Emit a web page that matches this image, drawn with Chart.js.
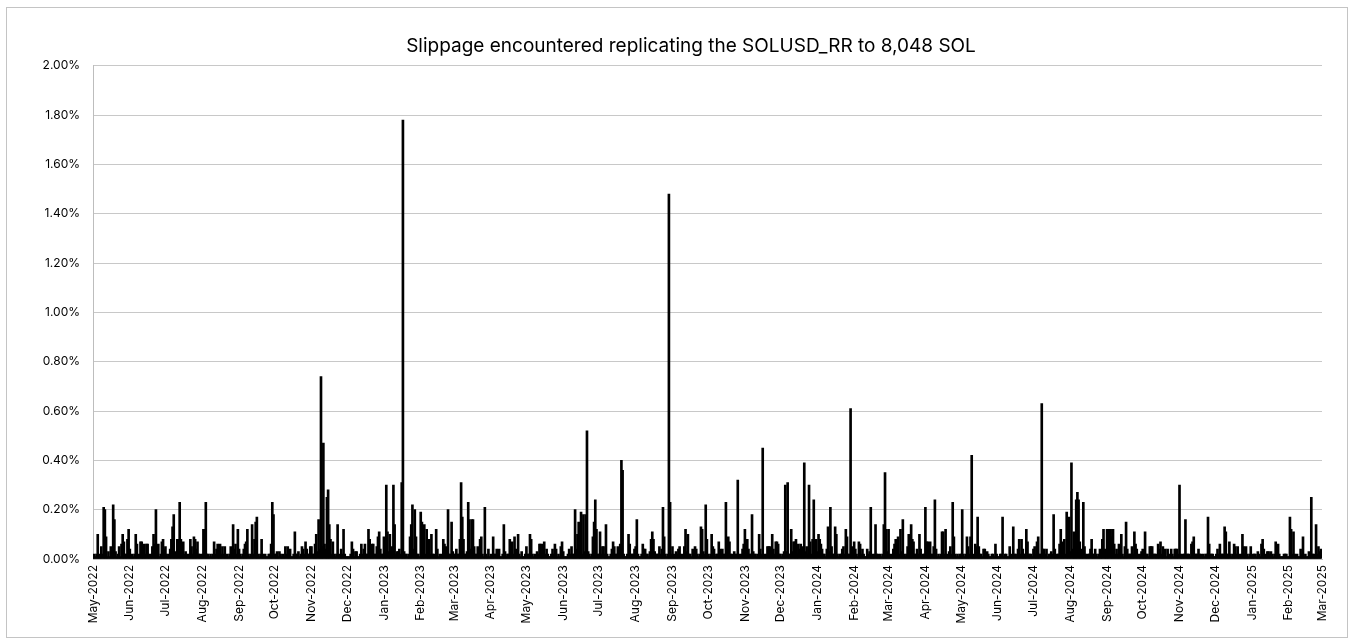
<!DOCTYPE html>
<html>
<head>
<meta charset="utf-8">
<script src="https://cdn.jsdelivr.net/npm/chart.js@4.4.1/dist/chart.umd.min.js"></script>
<style>
html,body{margin:0;padding:0;background:#fff;}
#wrap{position:relative;width:1356px;height:644px;}
</style>
</head>
<body>
<div id="wrap"><canvas id="c" width="1356" height="644"></canvas></div>
<script>
const chartTitle = 'Slippage encountered replicating the SOLUSD_RR to 8,048 SOL';
const firstDay = [2022, 4, 1]; // 1 May 2022 (UTC year, month index, day)
const monthLabels = ['May-2022','Jun-2022','Jul-2022','Aug-2022','Sep-2022','Oct-2022','Nov-2022','Dec-2022',
  'Jan-2023','Feb-2023','Mar-2023','Apr-2023','May-2023','Jun-2023','Jul-2023','Aug-2023','Sep-2023','Oct-2023','Nov-2023','Dec-2023',
  'Jan-2024','Feb-2024','Mar-2024','Apr-2024','May-2024','Jun-2024','Jul-2024','Aug-2024','Sep-2024','Oct-2024','Nov-2024','Dec-2024',
  'Jan-2025','Feb-2025','Mar-2025'];

// Daily slippage, in hundredths of a percent (1 = 0.01%)
const slip2022 = [
  1,2,1,2,10,2,1,5,2,21,20,9,1,3,1,5,2,22,16,3,1,2,5,1,6,10,7,2,2,8,12,          // May
  4,1,2,1,2,10,6,1,2,7,7,2,6,2,6,6,2,1,2,5,10,6,20,2,6,1,2,7,8,4,                 // Jun
  5,2,1,2,4,8,13,18,2,3,8,8,23,8,2,7,2,3,2,1,2,8,5,2,9,8,4,7,2,2,1,               // Jul
  2,12,12,23,2,2,1,2,1,2,7,2,4,6,2,6,2,5,2,5,1,2,1,2,5,2,14,4,6,2,12,             // Aug
  4,2,1,2,4,6,7,12,2,1,2,14,2,8,15,17,2,1,2,8,2,1,2,1,1,2,2,6,23,18,              // Sep
  2,2,3,1,3,2,1,2,1,5,2,5,3,4,1,1,2,11,2,2,3,1,2,5,4,2,7,4,2,2,5,                 // Oct
  5,2,2,6,10,3,16,4,74,5,47,6,4,25,28,14,8,2,7,2,1,2,14,2,1,4,2,12,2,1,           // Nov
  1,1,1,2,7,4,1,3,3,1,1,2,6,2,4,6,2,2,12,8,2,6,6,2,2,5,9,11,4,2,2                 // Dec
];
const slip2023 = [
  9,4,30,11,3,10,2,5,30,14,2,3,3,4,2,31,178,3,2,2,1,2,9,14,22,4,20,9,2,2,1,       // Jan
  19,15,3,14,2,12,2,8,2,10,2,2,1,12,4,1,2,1,2,8,6,5,2,20,2,2,15,3,                // Feb
  2,2,4,2,2,8,31,17,8,2,2,3,23,16,4,16,16,5,2,2,5,2,8,9,2,1,21,2,1,4,1,           // Mar
  2,1,9,2,2,4,2,4,1,1,2,14,3,1,2,2,8,6,7,2,9,4,2,10,2,1,3,1,1,2,                  // Apr
  5,2,2,10,8,2,1,2,1,3,2,6,6,2,6,7,2,4,2,1,1,2,4,2,6,4,1,2,1,5,7,                 // May
  3,1,1,1,2,4,2,5,2,2,20,4,10,15,3,19,2,18,3,18,52,3,2,1,2,9,15,24,12,2,          // Jun
  2,11,2,5,5,2,14,2,1,1,2,4,7,5,2,2,5,2,6,40,36,2,1,1,2,10,6,2,2,2,4,             // Jul
  5,16,2,1,1,2,6,4,4,2,2,1,3,8,11,8,3,2,2,2,5,2,4,21,9,2,1,2,148,23,2,            // Aug
  5,2,1,3,2,4,5,2,1,2,5,12,3,10,2,2,1,4,2,5,4,2,1,2,13,12,3,2,22,8,               // Sep
  2,1,2,10,5,4,1,2,2,7,4,2,4,2,2,23,4,9,7,2,2,1,3,2,2,32,2,1,2,4,6,               // Oct
  12,2,8,4,2,2,18,3,2,2,1,2,10,4,2,45,2,1,2,5,5,5,2,10,4,2,7,7,6,2,               // Nov
  2,1,2,3,30,3,31,2,2,12,3,7,7,8,2,6,4,6,2,5,39,3,5,2,30,7,2,8,24,2,8             // Dec
];
const slip2024 = [
  3,10,8,6,4,2,2,1,4,13,3,21,5,2,2,13,10,2,1,2,2,4,5,2,12,9,2,2,61,5,3,           // Jan
  7,4,2,1,7,6,2,4,2,1,1,4,2,3,21,2,1,2,14,2,2,1,2,1,2,14,35,12,3,                 // Feb
  12,2,1,2,4,6,8,2,9,2,12,3,16,2,1,2,5,10,3,14,8,7,2,2,4,2,10,4,1,2,2,            // Mar
  21,7,7,2,7,2,2,5,24,4,1,2,1,2,11,11,2,12,2,1,3,5,2,23,9,2,1,2,1,2,              // Apr
  2,20,2,1,2,9,5,2,9,42,2,1,6,5,17,5,2,2,1,4,4,2,3,2,1,1,2,2,1,6,2,               // May
  1,1,2,2,17,1,2,2,1,1,5,2,1,13,2,2,1,4,8,2,8,4,2,2,12,7,2,2,2,1,                 // Jun
  4,5,2,7,9,2,2,63,4,4,2,4,1,2,2,3,2,18,4,1,2,2,6,12,7,2,8,2,19,6,17,             // Jul
  3,39,4,11,3,24,27,24,7,4,2,23,5,2,1,2,2,4,8,2,2,4,2,1,2,4,2,8,12,4,3,           // Aug
  12,12,12,12,9,12,6,2,4,2,6,2,10,2,1,5,15,4,2,2,2,5,2,11,6,4,2,1,2,3,            // Sep
  4,2,11,2,2,1,5,5,5,2,2,2,1,6,4,7,2,5,2,4,1,4,2,1,4,2,1,4,4,4,2,                 // Oct
  30,2,1,2,2,16,2,2,2,1,6,7,9,2,2,2,4,2,2,1,2,1,2,2,17,6,2,2,2,1,                 // Nov
  1,2,4,2,6,2,2,2,13,11,2,2,7,2,1,2,6,5,2,5,2,1,2,10,5,2,5,2,1,2,5                // Dec
];
const slip2025 = [
  1,2,2,2,1,3,2,1,6,8,4,1,2,3,3,2,3,2,1,2,7,2,6,2,1,1,1,2,2,2,1,                  // Jan
  1,17,12,2,11,2,1,2,1,1,4,2,9,1,2,1,1,3,2,25,2,2,1,14,2,5,3,4                    // Feb
];
const yTickValues = [0,20,40,60,80,100,120,140,160,180,200];

const values = [...slip2022, ...slip2023, ...slip2024, ...slip2025, null]; // last slot = 1 Mar 2025
const dayLabels = [];
const monthStartLabel = {};
let m = 0;
for (let i = 0; i < values.length; i++) {
  const d = new Date(Date.UTC(firstDay[0], firstDay[1], firstDay[2] + i));
  dayLabels.push(d.toISOString().slice(0, 10));
  if (d.getUTCDate() === 1) { monthStartLabel[i] = monthLabels[m]; m++; }
}

const frame = {
  id: 'frame',
  afterLayout(c) {
    // centre the title a little right of the canvas centre, as in the original
    if (c.titleBlock) { c.titleBlock.left = 60; }
  },
  beforeDraw(c) {
    const x = c.ctx;
    x.save();
    x.fillStyle = '#fff';
    x.fillRect(0, 0, c.width, c.height);
    x.strokeStyle = '#c4c4c4';
    x.lineWidth = 1;
    x.strokeRect(6.5, 7.5, 1341, 630);
    x.restore();
  }
};

const tickFont = {family: 'Inter, "Liberation Sans", Arial, sans-serif', size: 12};

new Chart(document.getElementById('c'), {
  type: 'bar',
  data: {
    labels: dayLabels,
    datasets: [{
      data: values,
      backgroundColor: '#000',
      borderWidth: 0,
      barThickness: 2,
      barPercentage: 1,
      categoryPercentage: 1
    }]
  },
  plugins: [frame],
  options: {
    responsive: false,
    animation: false,
    devicePixelRatio: 1,
    layout: {padding: {left: 0, right: 34, top: 0, bottom: 0}},
    plugins: {
      legend: {display: false},
      tooltip: {enabled: false},
      title: {
        display: true,
        text: chartTitle,
        color: '#000',
        font: {family: 'Inter, "Liberation Sans", Arial, sans-serif', size: 19, weight: 'normal'},
        padding: {top: 35, bottom: 8}
      }
    },
    scales: {
      x: {
        type: 'category',
        offset: false,
        grid: {display: false, drawTicks: false},
        border: {display: true, color: '#bdbdbd'},
        ticks: {
          autoSkip: false,
          minRotation: 90,
          maxRotation: 90,
          padding: 6,
          color: '#000',
          font: tickFont,
          callback: (v, i) => monthStartLabel[i] || ''
        },
        afterFit: s => { s.height = 85; }
      },
      y: {
        min: 0,
        max: 200,
        afterBuildTicks: s => { s.ticks = yTickValues.map(v => ({value: v})); },
        ticks: {
          padding: 13,
          color: '#000',
          font: tickFont,
          callback: v => (v / 100).toFixed(2) + '%'
        },
        grid: {color: '#c8c8c8', lineWidth: 1, drawTicks: false},
        border: {display: true, color: '#bdbdbd'},
        afterFit: s => { s.width = 93; }
      }
    }
  }
});
</script>
</body>
</html>
